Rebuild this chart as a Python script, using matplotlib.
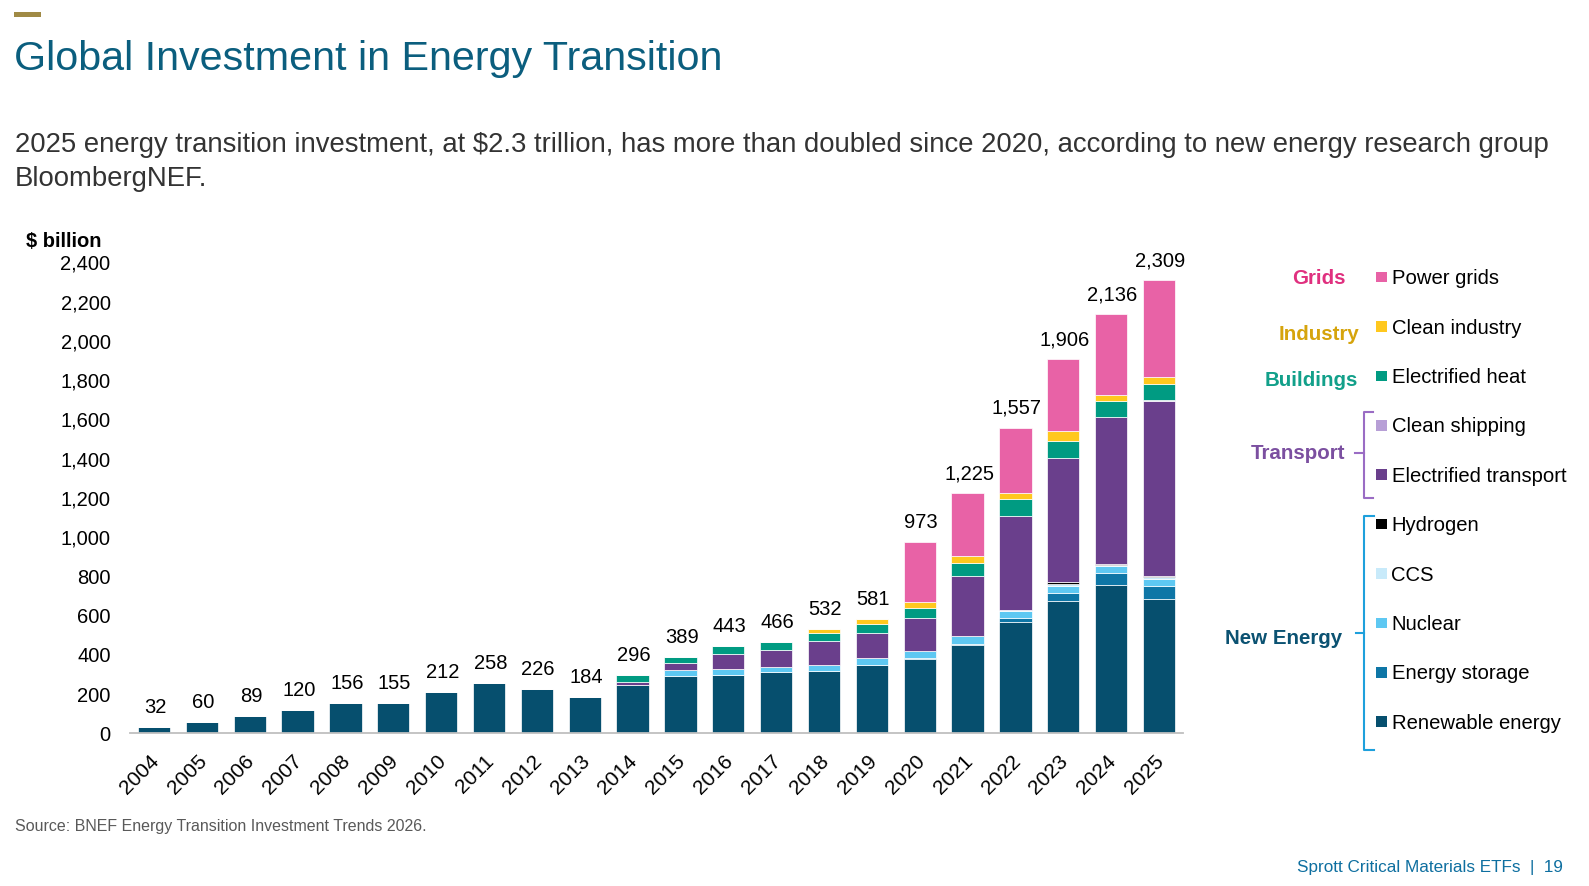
import numpy as np
from matplotlib import pyplot as plt
import matplotlib.patches as patches

plt.rcParams['font.family'] = ['Liberation Sans', 'DejaVu Sans']

W, H = 1589, 886

years = [str(y) for y in range(2004, 2026)]
totals = [32, 60, 89, 120, 156, 155, 212, 258, 226, 184, 296,
          389, 443, 466, 532, 581, 973, 1225, 1557, 1906, 2136, 2309]

# $ billion per segment (2004 .. 2025)
renewable = [32, 60, 89, 120, 156, 155, 212, 258, 226, 184, 247,
             291, 299, 311, 315, 350, 379, 452, 566, 673, 758, 685]
storage = [0] * 16 + [5, 4, 20, 41, 58, 68]
nuclear = [0] * 11 + [32, 29, 29, 35, 34, 35, 40, 36, 37, 39, 34]
ccs = [0] * 18 + [6, 10, 5, 8]
hydrogen = [0] * 19 + [8, 5, 5]
el_transport = [0] * 10 + [13, 34, 77, 85, 118, 126, 170, 306, 480, 636, 745, 894]
shipping = [0] * 20 + [2, 3]
el_heat = [0] * 10 + [36, 32, 38, 41, 45, 46, 50, 68, 85, 85, 80, 82]
industry = [0] * 14 + [19, 25, 30, 34, 34, 51, 30, 39]
grids = [0] * 16 + [304, 321, 330, 365, 414, 491]

series = [
    ("Renewable energy", renewable, "#064f6e"),
    ("Energy storage", storage, "#0e76a6"),
    ("Nuclear", nuclear, "#5ec8f2"),
    ("CCS", ccs, "#c8eafa"),
    ("Hydrogen", hydrogen, "#000000"),
    ("Electrified transport", el_transport, "#6a3f8c"),
    ("Clean shipping", shipping, "#b79fd6"),
    ("Electrified heat", el_heat, "#009b82"),
    ("Clean industry", industry, "#ffc81e"),
    ("Power grids", grids, "#e862a6"),
]

groups = [
    ("Grids", "#e0307f"),
    ("Industry", "#d6a40c"),
    ("Buildings", "#12a08a"),
    ("Transport", "#7b4fa0"),
    ("New Energy", "#0b5272"),
]

fig = plt.figure(figsize=(W / 100, H / 100), dpi=100)

# ---- bar chart ----
ax = fig.add_axes([130 / W, (H - 733.3) / H, 1053 / W, 471 / H])
x = np.arange(len(years))
bottom = np.zeros(len(years))
for name, vals, col in series:
    vals = np.array(vals, dtype=float)
    ax.bar(x, vals, width=0.675, bottom=bottom, color=col,
           edgecolor='white', linewidth=0.5, zorder=2)
    bottom += vals

ax.set_xlim(-0.5, 21.5)
ax.set_ylim(0, 2400)
for s in ['top', 'right', 'left']:
    ax.spines[s].set_visible(False)
ax.spines['bottom'].set_color('#bfbfbf')
ax.spines['bottom'].set_linewidth(1.3)
ax.spines['bottom'].set_zorder(3)
ax.set_yticks(range(0, 2401, 200))
ax.set_yticklabels([f"{v:,}" for v in range(0, 2401, 200)], fontsize=14.5)
ax.tick_params(axis='y', length=0, pad=14)
ax.set_xticks([])

for i, t in enumerate(totals):
    ax.annotate(f"{t:,}", xy=(i, t), xytext=(1, 10), textcoords='offset points',
                ha='center', va='baseline', fontsize=14.5)
    ax.annotate(years[i], xy=(i, 0), xycoords=('data', 'axes fraction'),
                xytext=(-3.5, -13), textcoords='offset points',
                ha='right', va='top', rotation=45, rotation_mode='anchor',
                fontsize=15)

# ---- overlay in pixel coords for text / legend ----
ov = fig.add_axes([0, 0, 1, 1], zorder=5)
ov.set_xlim(0, W)
ov.set_ylim(H, 0)
ov.axis('off')
ov.patch.set_alpha(0)

ov.add_patch(patches.Rectangle((14, 11.7), 26.7, 5, color="#a08a45", lw=0))
ov.text(14, 70, "Global Investment in Energy Transition", fontsize=29.7,
        color="#0b5e7e", va='baseline')
ov.text(15, 151.7, "2025 energy transition investment, at $2.3 trillion, has more than "
        "doubled since 2020, according to new energy research group",
        fontsize=19.8, color="#333333", va='baseline')
ov.text(15, 186, "BloombergNEF.", fontsize=19.8, color="#333333", va='baseline')
ov.text(26, 246.7, "$ billion", fontsize=14.5, fontweight='bold', va='baseline')

ov.text(15, 830.7, "Source: BNEF Energy Transition Investment Trends 2026.",
        fontsize=11.5, color="#595959", va='baseline')
ov.text(1562.7, 871.7, "Sprott Critical Materials ETFs  |  19", fontsize=12.3,
        color="#0e6fa0", va='baseline', ha='right')

# legend: top item first
legend_order = list(reversed(series))
for k, (name, vals, col) in enumerate(legend_order):
    yc = 277 + 49.4 * k
    ov.add_patch(patches.Rectangle((1376, yc - 5.3), 10.6, 10.6, color=col, lw=0))
    ov.text(1391.5, yc + 7.2, name, fontsize=14.6, va='baseline')

group_pos = [(1345.7, 276.5), (1359, 332.5), (1357.7, 379), (1345, 451.7), (1341.7, 636.7)]
for (label, col), (gx, gy) in zip(groups, group_pos):
    ov.text(gx, gy + 7.2, label, fontsize=14.8, fontweight='bold', color=col,
            ha='right', va='baseline')

def bracket(x0, y0, y1, ym, col):
    ov.plot([x0 + 9.5, x0, x0, x0 + 9.5], [y0, y0, y1, y1], color=col, lw=1.5,
            solid_joinstyle='round')
    ov.plot([x0 - 8.5, x0], [ym, ym], color=col, lw=1.5)

bracket(1363.5, 411.7, 498.3, 453.3, "#9a6cc4")
bracket(1364, 516, 750, 633.3, "#1ea0dc")

fig.savefig("out.png", dpi=100)
